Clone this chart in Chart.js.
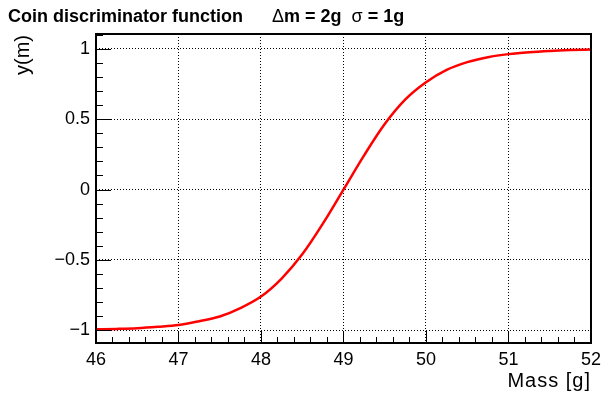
<!DOCTYPE html>
<html>
<head>
<meta charset="utf-8">
<script src="https://cdn.jsdelivr.net/npm/chart.js@4"></script>
<style>
  html, body { margin: 0; padding: 0; background: #fff; }
  #wrap { width: 607px; height: 394px; }
</style>
</head>
<body>
<div id="wrap"><canvas id="myChart"></canvas></div>
<script>
// discriminator curve y(m), sampled every 0.25 g
const mass = [46, 46.25, 46.5, 46.75, 47, 47.25, 47.5, 47.75, 48, 48.25, 48.5, 48.75,
  49, 49.25, 49.5, 49.75, 50, 50.25, 50.5, 50.75, 51, 51.25, 51.5, 51.75, 52];
const yOfM = [-0.993, -0.990, -0.985, -0.975, -0.962, -0.935, -0.902, -0.842, -0.760, -0.632, -0.460, -0.242,
  0.0, 0.243, 0.465, 0.640, 0.762, 0.850, 0.905, 0.940, 0.962, 0.976, 0.985, 0.991, 0.995];

const xTicks = [46, 47, 48, 49, 50, 51, 52];
const yTicks = [-1, -0.5, 0, 0.5, 1];

const FONT = '"Liberation Sans", Arial, Helvetica, sans-serif';

// ROOT-like frame, inward ticks, titles
const rootStyle = {
  id: 'rootStyle',
  afterDraw(chart) {
    const { ctx, chartArea: a, scales: { x, y } } = chart;
    ctx.save();
    ctx.strokeStyle = '#000';
    ctx.lineWidth = 1;
    ctx.beginPath();
    // x ticks: major every 1, minor every 0.2
    for (let i = 0; i <= 30; i++) {
      const v = 46 + i * 0.2;
      const px = Math.round(x.getPixelForValue(v)) + 0.5;
      const len = i % 5 === 0 ? 12 : 6;
      ctx.moveTo(px, a.bottom);
      ctx.lineTo(px, a.bottom - len);
    }
    // y ticks: major every 0.5, minor every 0.1
    for (let i = -10; i <= 11; i++) {
      const v = i / 10;
      if (v < y.min || v > y.max) continue;
      const py = Math.round(y.getPixelForValue(v)) + 0.5;
      const len = i % 5 === 0 ? 15 : 7;
      ctx.moveTo(a.left, py);
      ctx.lineTo(a.left + len, py);
    }
    ctx.stroke();

    ctx.lineWidth = 2;
    ctx.strokeRect(a.left, a.top, a.right - a.left, a.bottom - a.top);

    ctx.fillStyle = '#000';
    ctx.textBaseline = 'alphabetic';

    // title
    ctx.textAlign = 'left';
    ctx.font = 'bold 18px ' + FONT;
    ctx.fillText('Coin discriminator function', 8, 22);
    let tx = 272;
    const parts = [['Δ', false], ['m = 2g', true], ['  ', true], ['σ', false], [' = 1g', true]];
    for (const [s, bold] of parts) {
      ctx.font = (bold ? 'bold ' : '') + '18px ' + FONT;
      ctx.fillText(s, tx, 22);
      tx += ctx.measureText(s).width;
    }

    // axis titles
    ctx.font = '20px ' + FONT;
    ctx.letterSpacing = '1px';
    ctx.textAlign = 'right';
    ctx.fillText('Mass [g]', a.right, 387);
    ctx.letterSpacing = '0px';
    ctx.save();
    ctx.translate(29, a.top + 1);
    ctx.rotate(-Math.PI / 2);
    ctx.fillText('y(m)', 0, 0);
    ctx.restore();
    ctx.restore();
  }
};

const ctx = document.getElementById('myChart');

new Chart(ctx, {
  type: 'line',
  data: {
    datasets: [{
      data: mass.map((m, i) => ({ x: m, y: yOfM[i] })),
      borderColor: '#ff0000',
      borderWidth: 2.5,
      pointRadius: 0,
      cubicInterpolationMode: 'monotone',
      fill: false
    }]
  },
  options: {
    responsive: true,
    maintainAspectRatio: false,
    animation: false,
    layout: { padding: { top: 34, right: 10, left: 0, bottom: 0 } },
    plugins: { legend: { display: false }, tooltip: { enabled: false } },
    scales: {
      x: {
        type: 'linear',
        min: 46,
        max: 52,
        afterBuildTicks: s => { s.ticks = xTicks.map(v => ({ value: v })); },
        afterFit: s => { s.height = 51; },
        grid: { color: '#000', lineWidth: 1, drawTicks: false },
        border: { display: false, dash: [1, 2] },
        ticks: { color: '#000', padding: 6, font: { size: 18, family: FONT }, maxRotation: 0 }
      },
      y: {
        type: 'linear',
        min: -1.09,
        max: 1.105,
        afterBuildTicks: s => { s.ticks = yTicks.map(v => ({ value: v })); },
        afterFit: s => { s.width = 96; },
        grid: { color: '#000', lineWidth: 1, drawTicks: false },
        border: { display: false, dash: [1, 2] },
        ticks: {
          color: '#000', padding: 6, font: { size: 18, family: FONT },
          callback: v => (v < 0 ? '\u2212' + Math.abs(v) : String(v))
        }
      }
    }
  },
  plugins: [rootStyle]
});
</script>
</body>
</html>
